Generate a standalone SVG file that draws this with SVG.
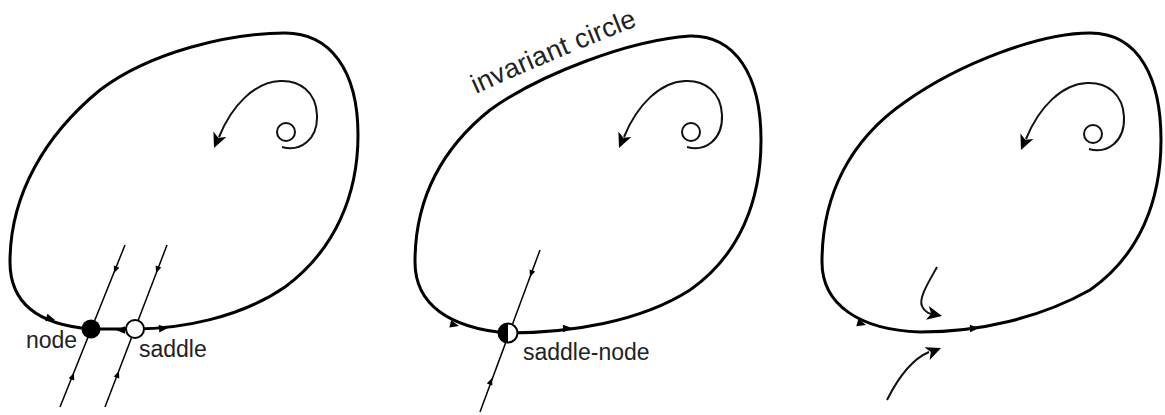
<svg xmlns="http://www.w3.org/2000/svg" xmlns:xlink="http://www.w3.org/1999/xlink" width="1165" height="415" viewBox="0 0 1165 415">
<style>
.loop{fill:none;stroke:#000;stroke-width:3;stroke-linejoin:round}
.thin{fill:none;stroke:#000;stroke-width:1.5}
.spiral{fill:none;stroke:#111;stroke-width:2}
.lbl{font-family:"Liberation Sans",Arial,sans-serif;font-size:23px;fill:#222}
</style>
<defs>
<path id="ah" d="M0,0 L-9,-3.8 L-9,3.8 Z" fill="#000"/>
<path id="ahs" d="M0,0 L-7,-3 L-7,3 Z" fill="#000"/>
<path id="ahb" d="M0,0 L-15,-7 L-11,0 L-15,7 Z" fill="#000"/>
<g id="spiral">
<circle cx="286" cy="132" r="9" class="spiral"/>
<path class="spiral" d="M282,147 C300,152 318,140 317,115 C316,92 300,80 280,81 C255,82 232,105 219,137"/>
<use xlink:href="#ahb" transform="translate(214,148) rotate(113)"/>
</g>
<path id="textcurve" d="M476,94 Q555,58 652,20"/>
</defs>

<g id="panel1">
<g id="loop1">
<path class="loop" d="M91,329 C40,325 10,305 10,262 C10,195 45,135 100,90 C150,52 230,33 285,33 C330,33 358,70 358,135 C358,195 335,250 285,287 C240,318 180,329 135,329 Z"/>
<use xlink:href="#ah" transform="translate(55,320) rotate(16)"/>
<use xlink:href="#ah" transform="translate(116,330) rotate(180)"/>
<use xlink:href="#ah" transform="translate(168,328) rotate(-4)"/>
</g>
<g id="spiral1"><use xlink:href="#spiral"/></g>
<g id="connectors1">
<path class="thin" d="M125,245 L60,407"/>
<path class="thin" d="M167,245 L105,407"/>
<use xlink:href="#ahs" transform="translate(114,273) rotate(112)"/>
<use xlink:href="#ahs" transform="translate(74,373) rotate(-68)"/>
<use xlink:href="#ahs" transform="translate(156,273) rotate(111)"/>
<use xlink:href="#ahs" transform="translate(119,371) rotate(-69)"/>
</g>
<g id="node"><circle cx="91" cy="329" r="9.5" fill="#000"/><text class="lbl" x="26" y="348">node</text></g>
<g id="saddle"><circle cx="135" cy="329" r="9" fill="#fff" stroke="#000" stroke-width="2"/><text class="lbl" x="139" y="357">saddle</text></g>
</g>

<g id="panel2">
<g id="loop2">
<path class="loop" d="M507,333 C450,328 415,305 415,262 C415,200 440,150 490,110 C540,74 630,40 690,36 C735,35 761,75 761,140 C761,200 740,255 690,290 C640,322 570,333 507,333 Z"/>
<use xlink:href="#ah" transform="translate(459,326) rotate(14)"/>
<use xlink:href="#ah" transform="translate(572,328) rotate(-3)"/>
<text class="lbl" style="font-size:27px"><textPath xlink:href="#textcurve" textLength="176" lengthAdjust="spacing">invariant circle</textPath></text>
</g>
<g id="spiral2"><use xlink:href="#spiral" transform="translate(405,0)"/></g>
<g id="connectors2">
<path class="thin" d="M540,250 L480,412"/>
<use xlink:href="#ahs" transform="translate(530,277) rotate(110)"/>
<use xlink:href="#ahs" transform="translate(492,378) rotate(-70)"/>
</g>
<g id="saddle-node">
<circle cx="508" cy="333" r="9.5" fill="#fff" stroke="#000" stroke-width="2"/>
<path d="M508,323.5 A9.5,9.5 0 0 0 508,342.5 Z" fill="#000"/>
<text class="lbl" x="523" y="360">saddle-node</text>
</g>
</g>

<g id="panel3">
<g id="loop3">
<path class="loop" d="M920,332 C860,330 822,305 822,262 C822,195 850,140 905,102 C960,63 1040,33 1090,33 C1140,33 1161,80 1161,140 C1161,200 1140,255 1090,290 C1040,318 980,332 920,332 Z"/>
<use xlink:href="#ah" transform="translate(866,325) rotate(16)"/>
<use xlink:href="#ah" transform="translate(979,328) rotate(-3)"/>
</g>
<g id="spiral3"><use xlink:href="#spiral" transform="translate(807,2)"/></g>
<g id="connectors3">
<path class="spiral" d="M937,267 C930,280 918,298 922,306 C924,311 928,313 931,314"/>
<use xlink:href="#ahb" transform="translate(942,316) rotate(12)"/>
<path class="spiral" d="M887,400 C897,380 910,360 929,352"/>
<use xlink:href="#ahb" transform="translate(941,348) rotate(-22)"/>
</g>
</g>
</svg>
